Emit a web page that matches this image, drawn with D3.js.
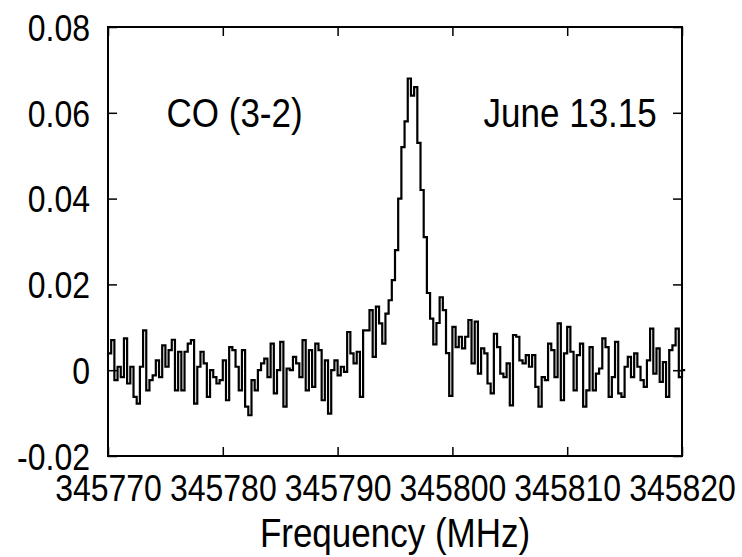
<!DOCTYPE html>
<html>
<head>
<meta charset="utf-8">
<script src="https://cdn.jsdelivr.net/npm/d3@7"></script>
<style>
  body { margin: 0; background: #fff; }
  text { font-family: "Liberation Sans", Arial, sans-serif; fill: #000; }
</style>
</head>
<body>
<div id="chart"></div>
<script>
// Spectrum channels (left edge of first channel and channel width in MHz)
const chanStart = 345770;
const chanWidth = 50 / 180;

// Intensity per channel
const intensity = [
  0.0039, 0.0070, -0.0023, 0.0008, -0.0016, 0.0074, -0.0031, 0.0008, -0.0062, -0.0078,
  0.0008, 0.0093, -0.0047, -0.0023, -0.0012, 0.0023, -0.0016, 0.0058, 0.0008, 0.0047,
  0.0071, -0.0047, 0.0043, -0.0047, 0.0043, 0.0062, 0.0070, -0.0078, 0.0008, 0.0043,
  0.0016, -0.0062, 0.0000, -0.0016, -0.0031, -0.0023, 0.0023, -0.0070, 0.0054, 0.0047,
  0.0008, -0.0047, 0.0047, -0.0085, -0.0105,
  -0.0023, -0.0047, 0.0000, 0.0016, 0.0027, -0.0016, 0.0062, -0.0054, 0.0000, 0.0066,
  -0.0085, 0.0004, 0.0000, 0.0031, 0.0016, -0.0016, 0.0070, -0.0047, 0.0047, -0.0039,
  0.0062, 0.0047, -0.0070, 0.0023, -0.0101, 0.0000, 0.0023, -0.0012, 0.0008, -0.0004,
  0.0089, 0.0039, 0.0016, 0.0043, -0.0062, 0.0093, 0.0093, 0.0140, 0.0031, 0.0148,
  0.0109, 0.0062, 0.0132, 0.0163,
  0.021, 0.028, 0.040, 0.052, 0.058, 0.068, 0.064, 0.066, 0.053, 0.042,
  0.031, 0.018, 0.012, 0.006, 0.011, 0.017, 0.014, 0.004, -0.006,
  0.0101, 0.0054, 0.0078, 0.0051, 0.0078, 0.0117, 0.0016, 0.0113, -0.0008, 0.0051,
  0.0039, -0.0031, -0.0054, 0.0085, 0.0054, -0.0008, -0.0016, 0.0016, -0.0082, 0.0082,
  0.0078, 0.0023, 0.0016, 0.0035, 0.0008, 0.0035, -0.0039, -0.0085, -0.0016, -0.0023,
  0.0062, 0.0047, -0.0016, 0.0109, -0.0070, 0.0039, 0.0101, 0.0043, -0.0047,
  0.0035, 0.0062, -0.0085, -0.0047, 0.0054, -0.0047, -0.0008, 0.0004, 0.0074, 0.0054,
  -0.0062, -0.0016, 0.0066, -0.0054, -0.0062, 0.0008, 0.0031, -0.0016, 0.0039, 0.0008,
  -0.0023, -0.0039, 0.0023, 0.0097, -0.0008, 0.0051, -0.0027, 0.0019, -0.0062, 0.0047,
  0.0058, 0.0097, -0.0016, 0.0000
];

const xTicks = [345770, 345780, 345790, 345800, 345810, 345820];
const yTicks = [-0.02, 0, 0.02, 0.04, 0.06, 0.08];
const xLabel = "Frequency (MHz)";
const leftNote = "CO (3-2)";
const rightNote = "June 13.15";

const width = 742, height = 557;
const margin = { top: 27, right: 60, bottom: 101, left: 108 };
const innerWidth = width - margin.left - margin.right;
const innerHeight = height - margin.top - margin.bottom;
const stretch = 1.16; // glyphs in the picture are a bit taller than wide

const data = intensity.map((v, i) => ({ f: chanStart + i * chanWidth, v }));
data.push({ f: chanStart + intensity.length * chanWidth, v: intensity[intensity.length - 1] });

const svg = d3.select("#chart")
  .append("svg")
    .attr("width", width)
    .attr("height", height);

const g = svg.append("g")
  .attr("transform", `translate(${margin.left}, ${margin.top})`);

const xScale = d3.scaleLinear()
  .domain([345770, 345820])
  .range([0, innerWidth]);
const yScale = d3.scaleLinear()
  .domain([-0.02, 0.08])
  .range([innerHeight, 0]);

// Axes: ticks point inward on all four sides
const tickLen = 9;
const styleAxis = sel => {
  sel.select(".domain").remove();
  sel.selectAll(".tick line").attr("stroke", "#000").attr("stroke-width", 1.5);
};

// Bottom labels
const bottomAxis = g.append("g")
  .attr("transform", `translate(0, ${innerHeight})`)
  .call(d3.axisBottom(xScale).tickValues(xTicks).tickSize(-tickLen).tickFormat(d3.format("d")))
  .call(styleAxis);
bottomAxis.selectAll(".tick text")
  .attr("y", 0).attr("dy", null)
  .attr("font-size", 32)
  .attr("transform", `translate(0, 45) scale(1, ${stretch})`);

g.append("g")
  .call(d3.axisTop(xScale).tickValues(xTicks).tickSize(-tickLen).tickFormat(""))
  .call(styleAxis);

// Left labels
const leftAxis = g.append("g")
  .call(d3.axisLeft(yScale).tickValues(yTicks).tickSize(-tickLen)
    .tickFormat(d => d === 0 ? "0" : d3.format(".2f")(d).replace("\u2212", "-")))
  .call(styleAxis);
leftAxis.selectAll(".tick text")
  .attr("x", 0).attr("dy", "0.36em")
  .attr("font-size", 32)
  .attr("transform", `translate(-18, 0) scale(1, ${stretch})`);

g.append("g")
  .attr("transform", `translate(${innerWidth}, 0)`)
  .call(d3.axisRight(yScale).tickValues(yTicks).tickSize(-tickLen).tickFormat(""))
  .call(styleAxis);

// Spectrum
const line = d3.line()
  .x(d => xScale(d.f))
  .y(d => yScale(d.v))
  .curve(d3.curveStepAfter);

g.append("path")
  .datum(data)
  .attr("d", line)
  .attr("fill", "none")
  .attr("stroke", "#000")
  .attr("stroke-width", 2.2)
  .attr("stroke-linejoin", "miter");

// Frame
g.append("rect")
  .attr("width", innerWidth)
  .attr("height", innerHeight)
  .attr("fill", "none")
  .attr("stroke", "#000")
  .attr("stroke-width", 2);

// Annotations
const addText = (parent, x, y, txt, anchor) => parent.append("text")
  .attr("transform", `translate(${x}, ${y}) scale(1, ${stretch})`)
  .attr("dy", "0.36em")
  .attr("text-anchor", anchor)
  .attr("font-size", 35)
  .text(txt);

addText(g, xScale(345775.1), yScale(0.06), leftNote, "start");
addText(g, xScale(345817.8), yScale(0.06), rightNote, "end");

svg.append("text")
  .attr("transform", `translate(${margin.left + innerWidth / 2}, 547) scale(1, ${stretch})`)
  .attr("text-anchor", "middle")
  .attr("font-size", 35)
  .text(xLabel);
</script>
</body>
</html>
